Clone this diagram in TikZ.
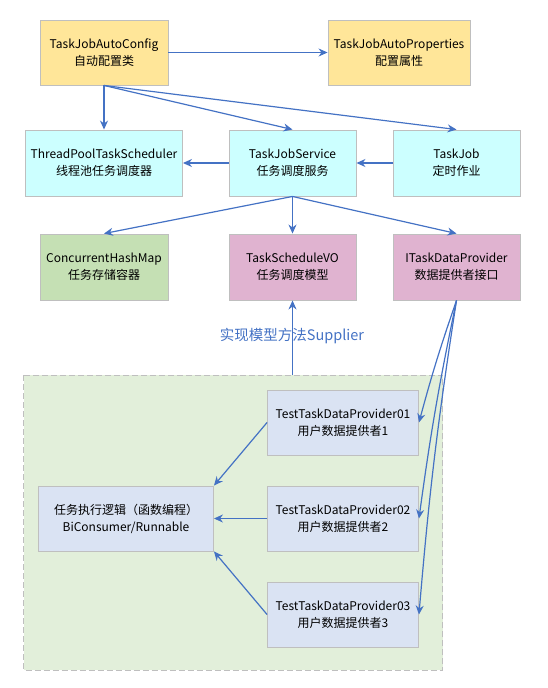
\documentclass[tikz,border=0pt]{standalone}
\usepackage{fontspec}
\setmainfont{Noto Sans CJK SC}
\usetikzlibrary{arrows.meta}
\definecolor{cyel}{HTML}{FFE699}
\definecolor{ccyan}{HTML}{CCFFFF}
\definecolor{cgreen}{HTML}{C5E0B4}
\definecolor{cpink}{HTML}{E0B3D0}
\definecolor{clav}{HTML}{DAE3F3}
\definecolor{cgrp}{HTML}{E2EFDA}
\definecolor{cbord}{HTML}{BFBFBF}
\definecolor{carrow}{HTML}{4472C4}
\tikzset{
  box/.style={draw=cbord, line width=0.9pt, inner sep=0pt, align=center,
    font=\fontsize{12}{17}\selectfont, text=black},
  ybox/.style={box, fill=cyel},
  cbox/.style={box, fill=ccyan},
  gbox/.style={box, fill=cgreen},
  pbox/.style={box, fill=cpink},
  lbox/.style={box, fill=clav},
  arr/.style={draw=carrow, line width=1.2pt, -{Stealth[length=9pt,width=8pt]}},
}
\begin{document}
\begin{tikzpicture}[x=1pt,y=-1pt]
\useasboundingbox (0,0) rectangle (547,688);
% group background
\draw[fill=cgrp, draw=cbord, line width=1pt, dash pattern=on 6pt off 3pt] (23.5,375) rectangle (442.8,670);
\coordinate (gtop) at (292.5,375);

\node[ybox, minimum width=128pt, minimum height=65pt] (cfg) at (104,52.5) {TaskJobAutoConfig\\自动配置类};
\node[ybox, minimum width=142pt, minimum height=65pt] (prop) at (399,52.5) {TaskJobAutoProperties\\配置属性};
\node[cbox, minimum width=157pt, minimum height=66pt] (pool) at (104,163) {ThreadPoolTaskScheduler\\线程池任务调度器};
\node[cbox, minimum width=127pt, minimum height=66pt] (svc) at (292.5,163) {TaskJobService\\任务调度服务};
\node[cbox, minimum width=127pt, minimum height=66pt] (job) at (456.5,163) {TaskJob\\定时作业};
\node[gbox, minimum width=128pt, minimum height=66pt] (map) at (104,267) {ConcurrentHashMap\\任务存储容器};
\node[pbox, minimum width=127pt, minimum height=66pt] (vo) at (292.5,267) {TaskScheduleVO\\任务调度模型};
\node[pbox, minimum width=127pt, minimum height=66pt] (itp) at (456.5,267) {ITaskDataProvider\\数据提供者接口};

\node[lbox, minimum width=151pt, minimum height=65pt] (p1) at (343,422.5) {TestTaskDataProvider01\\用户数据提供者1};
\node[lbox, minimum width=151pt, minimum height=65pt] (p2) at (343,518.5) {TestTaskDataProvider02\\用户数据提供者2};
\node[lbox, minimum width=151pt, minimum height=65pt] (p3) at (343,614.5) {TestTaskDataProvider03\\用户数据提供者3};
\node[lbox, minimum width=175pt, minimum height=65pt] (logic) at (126,518.5) {任务执行逻辑（函数编程）\\BiConsumer/Runnable};

% arrows
\draw[arr] (cfg.east) -- (prop.west);
\draw[arr] (cfg.south) -- (pool.north);
\draw[arr] (cfg.south) -- (svc.north);
\draw[arr] (cfg.south) -- (job.north);
\draw[arr] (svc.west) -- (pool.east);
\draw[arr] (job.west) -- (svc.east);
\draw[arr] (svc.south) -- (map.north);
\draw[arr] (svc.south) -- (vo.north);
\draw[arr] (svc.south) -- (itp.north);
\draw[arr] (gtop) -- (vo.south);
\node[font=\fontsize{14.5}{17}\selectfont, text=carrow, inner sep=0pt] (lbl) at (292,336) {实现模型方法Supplier};
\draw[arr] (itp.south) to[bend right=2] (p1.east);
\draw[arr] (itp.south) to[bend right=2] (p2.east);
\draw[arr] (itp.south) to[bend right=2] (p3.east);
\draw[arr] (p1.west) -- (logic.north east);
\draw[arr] (p2.west) -- (logic.east);
\draw[arr] (p3.west) -- (logic.south east);
\end{tikzpicture}
\end{document}
